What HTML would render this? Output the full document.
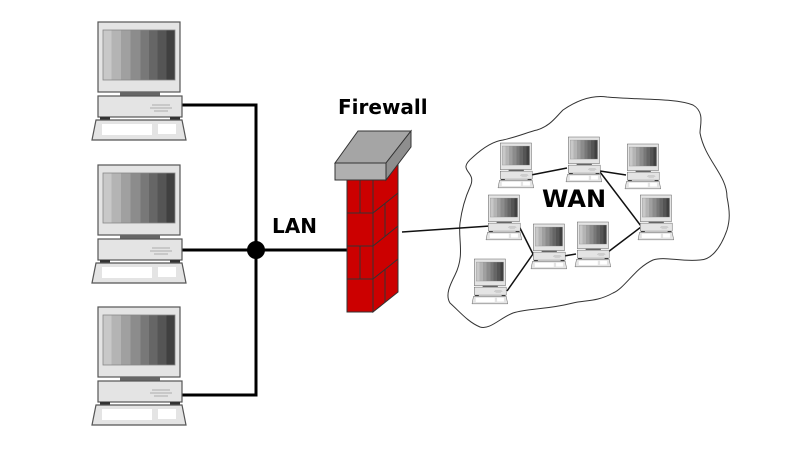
<!DOCTYPE html>
<html><head><meta charset="utf-8"><style>html,body{margin:0;padding:0;background:#fff}svg{display:block}</style></head>
<body>
<svg width="800" height="450" viewBox="0 0 800 450" xmlns="http://www.w3.org/2000/svg">
<defs>
<linearGradient id="scr" x1="0" x2="1" y1="0" y2="0">
<stop offset="0" stop-color="#c8c8c8"/><stop offset="0.12" stop-color="#c8c8c8"/>
<stop offset="0.12" stop-color="#b4b4b4"/><stop offset="0.25" stop-color="#b4b4b4"/>
<stop offset="0.25" stop-color="#a0a0a0"/><stop offset="0.38" stop-color="#a0a0a0"/>
<stop offset="0.38" stop-color="#8c8c8c"/><stop offset="0.52" stop-color="#8c8c8c"/>
<stop offset="0.52" stop-color="#787878"/><stop offset="0.64" stop-color="#787878"/>
<stop offset="0.64" stop-color="#666"/><stop offset="0.76" stop-color="#666"/>
<stop offset="0.76" stop-color="#555"/><stop offset="0.88" stop-color="#555"/>
<stop offset="0.88" stop-color="#404040"/><stop offset="1" stop-color="#404040"/>
</linearGradient>
<g id="pc">
<rect x="6" y="0" width="82" height="70" fill="#e4e4e4" stroke="#555" stroke-width="1.2"/>
<rect x="11" y="8" width="72" height="50" fill="url(#scr)"/>
<rect x="11" y="8" width="72" height="50" fill="none" stroke="#888" stroke-width="0.8"/>
<rect x="28" y="70" width="40" height="4" fill="#666"/>
<rect x="6" y="74" width="84" height="21" fill="#e4e4e4" stroke="#555" stroke-width="1.2"/>
<path d="M60 83h18M58 86h22M62 89h14" stroke="#999" stroke-width="0.8"/>
<rect x="8" y="95" width="10" height="3" fill="#333"/><rect x="78" y="95" width="10" height="3" fill="#333"/>
<path d="M0 118L4 98H90L94 118Z" fill="#e4e4e4" stroke="#555" stroke-width="1.2"/>
<rect x="10" y="102" width="50" height="11" fill="#fff"/><rect x="66" y="102" width="18" height="10" fill="#fff"/>
</g>
</defs>
<g stroke="#000" stroke-width="3" fill="none">
<path d="M182 105H256V395H182M182 250H347"/>
</g>
<circle cx="256" cy="250" r="9" fill="#000"/>
<use href="#pc" transform="translate(92,22)"/>
<use href="#pc" transform="translate(92,165)"/>
<use href="#pc" transform="translate(92,307)"/>
<text x="272" y="233" font-family="DejaVu Sans, sans-serif" font-weight="bold" font-size="20">LAN</text>
<text x="338" y="114" font-family="DejaVu Sans, sans-serif" font-weight="bold" font-size="20">Firewall</text>
<!-- cloud -->
<path d="M470 187C478 170 455 172 473 157C485 146 495 141 503 140C520 136 528 132 537 130C550 126 555 118 563 110C585 95 600 96 607 97C640 100 675 98 693 105C705 112 700 125 700 133C705 160 727 175 727 197C730 212 730 220 727 230C720 250 710 260 700 260C680 262 665 256 653 260C635 268 625 288 613 293C597 302 585 300 573 303C545 310 530 308 513 313C500 318 490 330 480 327C468 322 460 312 450 303C445 295 450 285 455 275C465 255 458 240 460 223C462 208 465 198 470 187Z" fill="none" stroke="#333" stroke-width="1"/>
<!-- WAN links -->
<g stroke="#111" stroke-width="1.5">
<path d="M402 232L490 226M531 175L567 168M600 171L626 175M600 172L641 226M641 227L608 252M576 254L564 256M533 254L519 226M533 254L507 291"/>
</g>
<g>
<use href="#pc" transform="translate(498,143) scale(0.38)"/>
<use href="#pc" transform="translate(566,137) scale(0.38)"/>
<use href="#pc" transform="translate(625,144) scale(0.38)"/>
<use href="#pc" transform="translate(486,195) scale(0.38)"/>
<use href="#pc" transform="translate(531,224) scale(0.38)"/>
<use href="#pc" transform="translate(575,222) scale(0.38)"/>
<use href="#pc" transform="translate(638,195) scale(0.38)"/>
<use href="#pc" transform="translate(472,259) scale(0.38)"/>
</g>
<text x="542" y="207" font-family="DejaVu Sans, sans-serif" font-weight="bold" font-size="24">WAN</text>
<!-- firewall -->
<g stroke="#333" stroke-width="1" fill="#cc0000">
<rect x="347" y="180" width="26" height="132"/>
<path d="M373 180L398 160V292L373 312Z"/>
<path d="M347 213H373M347 246H373M347 279H373M360 180V213M360 246V279M373 213L398 193M373 246L398 226M373 279L398 259M385 203V236M385 269V302" fill="none"/>
</g>
<g stroke="#333" stroke-width="1">
<path d="M335 163L358 131H411L386 163Z" fill="#a5a5a5"/>
<path d="M386 163L411 131V147L386 180Z" fill="#8e8e8e"/>
<rect x="335" y="163" width="51" height="17" fill="#b0b0b0"/>
</g>
</svg>
</body></html>
